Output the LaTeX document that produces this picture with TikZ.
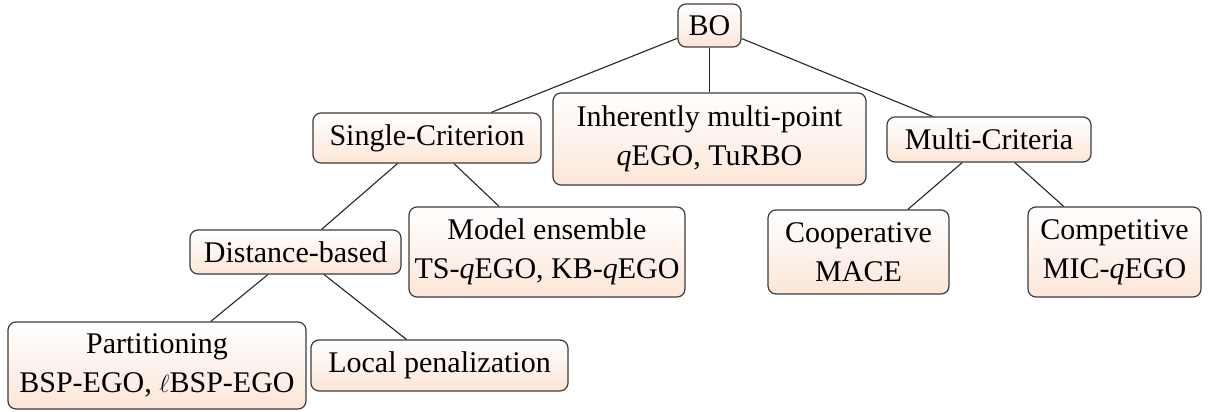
\documentclass[tikz,border=0pt]{standalone}
\usepackage{fontspec}
\setmainfont{Liberation Serif}
\definecolor{boxedge}{RGB}{60,60,60}
\definecolor{boxfoot}{RGB}{252,230,216}
\begin{document}
\begin{tikzpicture}[x=1pt,y=-1pt,
  tbox/.style={draw=boxedge, line width=1.2pt, rounded corners=8pt,
    top color=white, bottom color=boxfoot, shading angle=0,
    align=center, inner sep=0pt, font=\fontsize{30}{39}\selectfont,
    minimum width=#1},
  tbox/.default=10pt,
  link/.style={draw=black!85, line width=1.1pt}]
  \useasboundingbox (0,0) rectangle (1215,412);
  \fill[white] (0,0) rectangle (1215,412);

  % level 0
  \node[tbox=63pt, minimum height=43pt] (bo) at (709.5,25.5) {BO};
  % level 1
  \node[tbox=228pt, minimum height=50pt] (sc) at (427,138) {Single-Criterion};
  \node[tbox=313pt, minimum height=92pt] (im) at (709.5,139) {Inherently multi-point\\\textit{q}EGO, TuRBO};
  \node[tbox=204pt, minimum height=45pt] (mc) at (989,139.5) {Multi-Criteria};
  % level 2
  \node[tbox=211pt, minimum height=44pt] (db) at (295.5,252) {Distance-based};
  \node[tbox=276pt, minimum height=90pt] (me) at (547,252) {Model ensemble\\TS-\textit{q}EGO, KB-\textit{q}EGO};
  \node[tbox=181pt, minimum height=84pt] (co) at (858.5,252) {Cooperative\\MACE};
  \node[tbox=173pt, minimum height=90pt] (cp) at (1114.5,252) {Competitive\\MIC-\textit{q}EGO};
  % level 3
  \node[tbox=298pt, minimum height=87pt] (pa) at (157,365.5) {Partitioning\\BSP-EGO, $\ell$BSP-EGO};
  \node[tbox=257pt, minimum height=51pt] (lp) at (439.5,365.5) {Local penalization};

  % tree edges
  \draw[link] (bo) -- (sc);
  \draw[link] (bo) -- (im);
  \draw[link] (bo) -- (mc);
  \draw[link] (sc) -- (db);
  \draw[link] (sc) -- (me);
  \draw[link] (mc) -- (co);
  \draw[link] (mc) -- (cp);
  \draw[link] (db) -- (pa);
  \draw[link] (db) -- (lp);
\end{tikzpicture}
\end{document}
